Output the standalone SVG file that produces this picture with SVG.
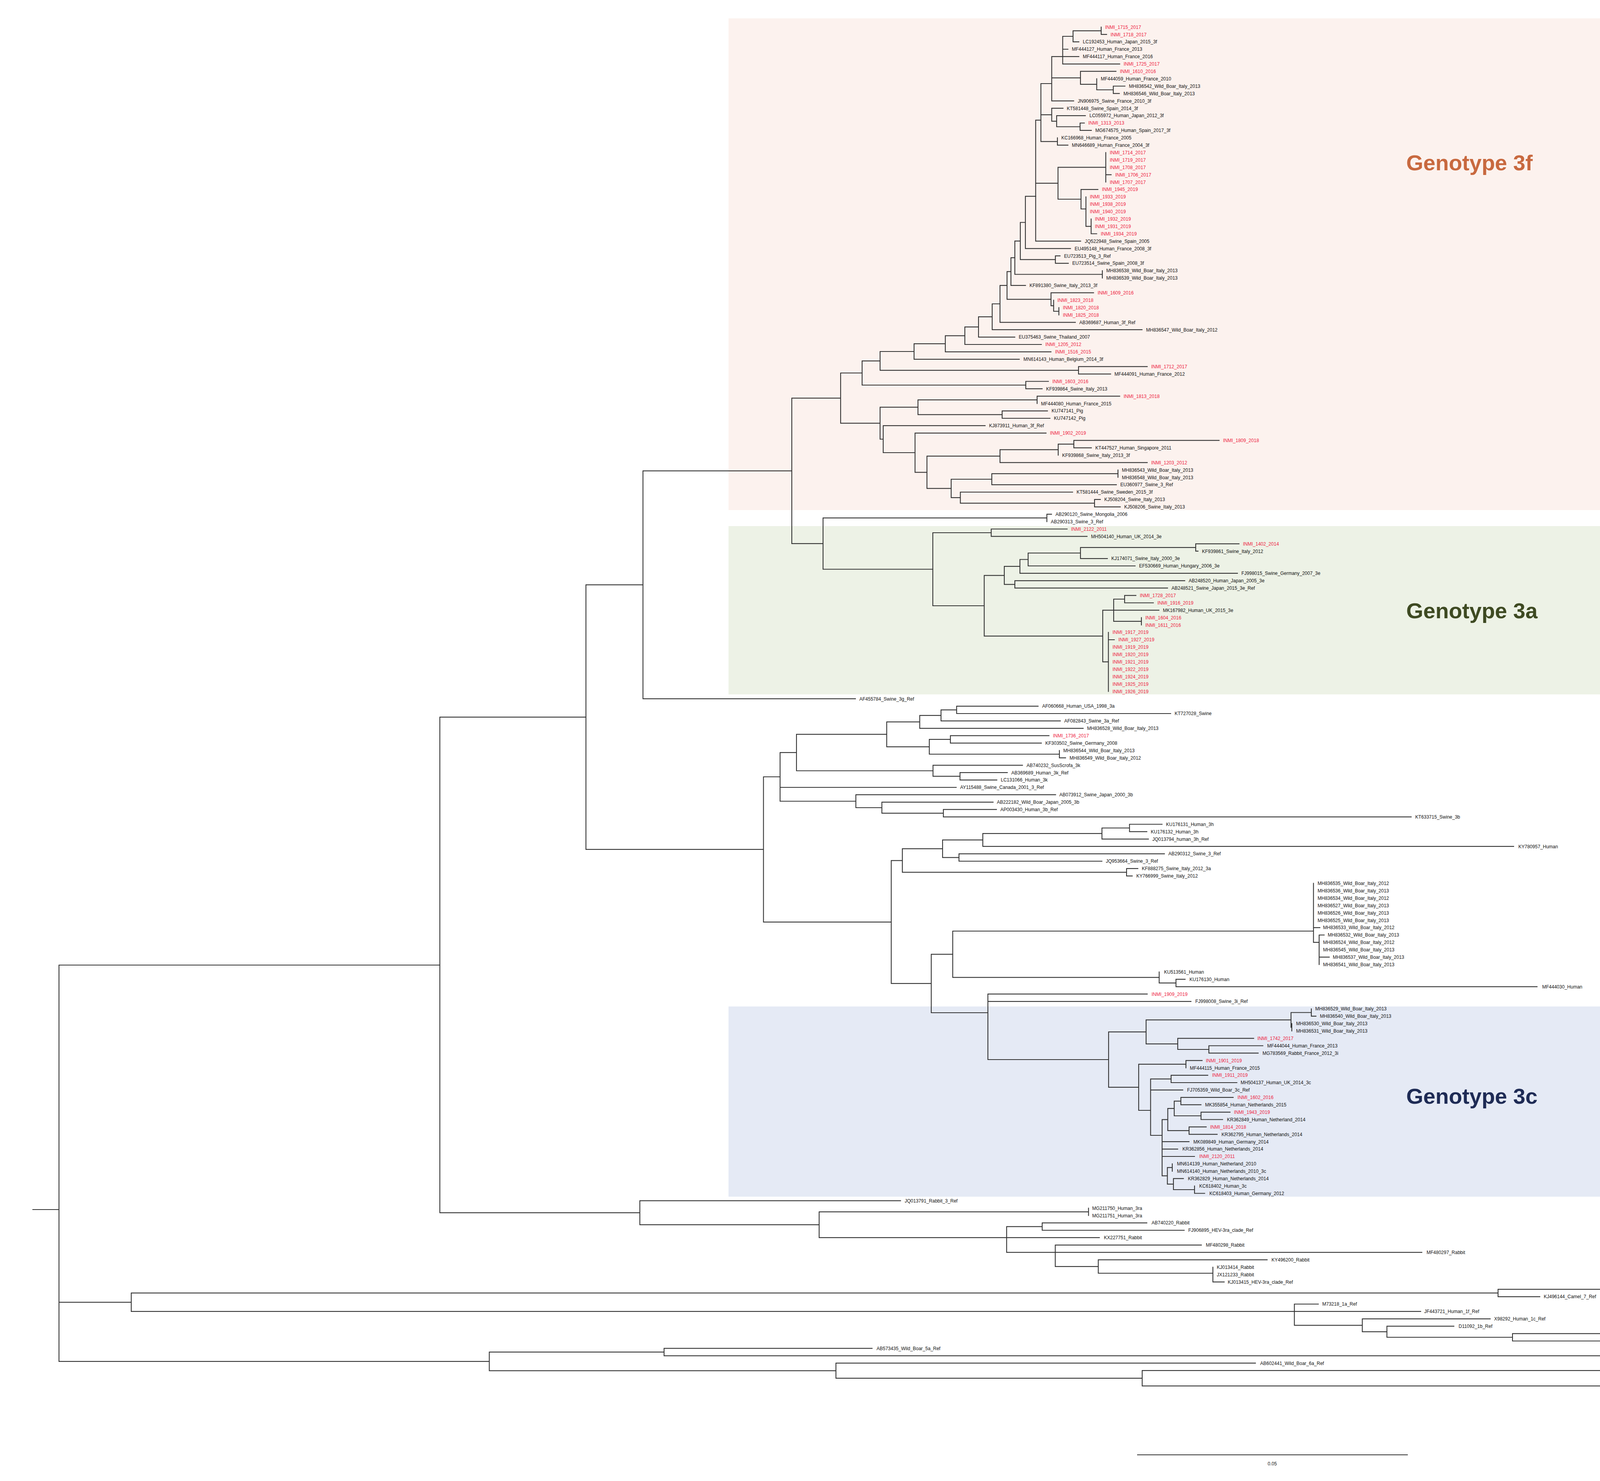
<svg xmlns="http://www.w3.org/2000/svg" width="6588" height="3792" viewBox="0 0 6588 3792">
<style>
.b{fill:none;stroke:#333;stroke-width:2.2;stroke-linecap:square}
.lv text{font-family:"Liberation Sans",Arial,sans-serif;font-size:12px;fill:#111}
.lv text.r{fill:#EE1D3F}
.gt{font-family:"Liberation Sans",Arial,sans-serif;font-size:56px;font-weight:bold}
.cl{font-family:"Liberation Sans",Arial,sans-serif;font-size:68px;font-weight:bold;fill:#000}
.br{fill:none;stroke:#8a8a8a;stroke-width:3}
</style>
<rect width="6588" height="3792" fill="#fff"/>
<g id="boxes">
<rect id="box3f" x="1865" y="47" width="2782" height="1259" fill="#FCF2EE"/>
<rect id="box3a" x="1865" y="1347" width="2782" height="431" fill="#EDF2E6"/>
<rect id="box3c" x="1865" y="2577" width="2782" height="487" fill="#E5EAF5"/>
</g>
<g id="connectors">
<path class="b" d="M2819 69.3V88.2M2819 88.2H2833M2747 78.8V107.1M2747 78.8H2819M2747 107.1H2762M2720.5 93V163.8M2720.5 93H2747M2720.5 126H2734M2720.5 163.8H2866.5M2692.4 144.9V258.3M2692.4 144.9H2762M2692.4 199.3H2766M2692.4 258.3H2748.7M2766 182.7V215.8M2766 182.7H2857M2766 215.8H2807.6M2807.6 201.6V230M2807.6 230H2850M2850 220.5V239.4M2850 220.5H2880M2850 239.4H2865.6M2664.7 214V362.3M2664.7 214H2692.4M2664.7 293.8H2692.4M2664.7 362.3H2707M2692.4 277.2V310.3M2692.4 277.2H2721.4M2692.4 310.3H2705M2705 296.1V324.5M2705 296.1H2778.6M2705 324.5H2765M2765 315V333.9M2765 315H2776M2765 333.9H2794M2707 352.8V371.7M2707 371.7H2734M2651.3 307.7V617.4M2651.3 307.7H2664.7M2651.3 469.2H2708.5M2651.3 617.4H2766.5M2708.5 428.4V510M2708.5 428.4H2830.8M2708.5 510H2767.4M2830.8 390.6V466.2M2830.8 447.3H2844.6M2767.4 485.1V535M2767.4 485.1H2810.7M2767.4 535H2780M2780 504V579.6M2780 579.6H2793.3M2793.3 560.7V598.5M2793.3 598.5H2807.6"/>
<path class="b" d="M2625 502.7V636.3M2625 502.7H2651.3M2625 636.3H2740.6M2701.8 655.2V674.1M2701.8 655.2H2713.8M2701.8 674.1H2735M2612 569.5V664.7M2612 569.5H2625M2612 664.7H2701.8M2822 693V711.9M2598 617.1V702.5M2598 617.1H2612M2598 702.5H2822M2588 659.8V730.8M2588 659.8H2598M2588 730.8H2625.4M2710.7 787.5V806.4M2697.3 768.6V797M2697.3 797H2710.7M2690.6 749.7V782.8M2690.6 749.7H2799.6M2690.6 782.8H2697.3M2578 695.3V766.3M2578 695.3H2588M2578 766.3H2690.6M2560 730.8V825.3M2560 730.8H2578M2560 825.3H2753M2540 778V844.2M2540 778H2560M2540 844.2H2923.7M2505 811.1V863.1M2505 811.1H2540M2505 863.1H2598M2470 837.1V882M2470 837.1H2505M2470 882H2666M2420 859.6V900.9M2420 859.6H2470M2420 900.9H2690.6M2340 880.2V919.8M2340 880.2H2420M2340 919.8H2609.5M2761 938.7V957.6M2761 938.7H2937M2761 957.6H2843.3M2253 900V948.2M2253 900H2340M2253 948.2H2761M2626 976.5V995.4M2626 976.5H2684M2626 995.4H2668M2207 924.1V986M2207 924.1H2253M2207 986H2626"/>
<path class="b" d="M2655 1014.3V1033.2M2655 1014.3H2866.5M2565.5 1052.1V1071M2565.5 1052.1H2681.6M2565.5 1071H2688M2350 1023.8V1061.6M2350 1023.8H2655M2350 1061.6H2565.5M2749 1127.7V1146.6M2749 1127.7H3121M2749 1146.6H2794M2709 1137.2V1165.5M2709 1137.2H2749M2560 1151.4V1184.4M2560 1151.4H2709M2560 1184.4H2937M2862 1203.3V1222.2M2539 1212.8V1241.1M2539 1212.8H2862M2539 1241.1H2858M2802 1278.9V1297.8M2802 1278.9H2817M2802 1297.8H2868M2458.5 1260V1288.4M2458.5 1260H2746M2458.5 1288.4H2802M2435 1227V1274.2M2435 1227H2539M2435 1274.2H2458.5M2373 1167.9V1250.6M2373 1167.9H2560M2373 1250.6H2435M2342.5 1108.8V1209.3M2342.5 1108.8H2678M2342.5 1209.3H2373M2261 1089.9V1159M2261 1089.9H2522M2261 1159H2342.5M2253 1042.7V1124.5M2253 1042.7H2350M2253 1124.5H2261M2152 955V1083.6M2152 955H2207M2152 1083.6H2253M2680 1316.7V1335.6M2680 1316.7H2692M2107 1326.2V1457.5M2107 1326.2H2680M2107 1457.5H2388M2027 1019.3V1391.9M2027 1019.3H2152M2027 1391.9H2107M1646 1205.6V1789.2M1646 1205.6H2027M1646 1789.2H2190"/>
<path class="b" d="M3061 1392.3V1411.2M3061 1392.3H3172M3061 1411.2H3067M2766 1401.8V1430.1M2766 1401.8H3061M2766 1430.1H2835M2632 1416V1449M2632 1416H2766M2632 1449H2906M2611 1432.5V1467.9M2611 1432.5H2632M2611 1467.9H3168M2598 1486.8V1505.7M2598 1486.8H3033M2598 1505.7H2989M2571 1450.2V1496.3M2571 1450.2H2611M2571 1496.3H2598M2879 1524.6V1543.5M2879 1524.6H2908M2879 1543.5H2952.7M2922 1581.3V1600.2M2851 1534V1590.8M2851 1534H2879M2851 1562.4H2967M2851 1590.8H2922M2837.5 1619.1V1770.3M2837.5 1638H2852.7M2823 1562.4V1694.7M2823 1562.4H2851M2823 1694.7H2837.5M2519.6 1473.3V1628.6M2519.6 1473.3H2571M2519.6 1628.6H2823M2537.5 1354.5V1373.4M2537.5 1354.5H2732M2537.5 1373.4H2783M2388 1364V1551M2388 1364H2537.5M2388 1551H2519.6"/>
<path class="b" d="M2449 1808.1V1827M2449 1808.1H2657.6M2449 1827H2997M2409 1817.6V1845.9M2409 1817.6H2449M2409 1845.9H2714.5M2354.5 1831.8V1864.8M2354.5 1831.8H2409M2354.5 1864.8H2773M2433 1883.7V1902.6M2433 1883.7H2685.5M2433 1902.6H2666M2712 1921.5V1940.4M2712 1940.4H2728M2379 1893.2V1931M2379 1893.2H2433M2379 1931H2712M2270 1848.3V1912.1M2270 1848.3H2354.5M2270 1912.1H2379M2457.6 1978.2V1997.1M2457.6 1978.2H2578.8M2457.6 1997.1H2552M2388.5 1959.3V1987.7M2388.5 1959.3H2617.6M2388.5 1987.7H2457.6M2039 1880.2V1973.5M2039 1880.2H2270M2039 1973.5H2388.5M2415 2072.7V2091.6M2415 2072.7H2551M2415 2091.6H3612.7M2257.6 2053.8V2082.2M2257.6 2053.8H2542.4M2257.6 2082.2H2415M2191 2034.9V2068M2191 2034.9H2702.4M2191 2068H2257.6M1997 1926.9V2051.5M1997 1926.9H2039M1997 2016H2448M1997 2051.5H2191"/>
<path class="b" d="M2891.5 2110.5V2129.4M2891.5 2110.5H2975M2891.5 2129.4H2936M2821 2120V2148.3M2821 2120H2891.5M2821 2148.3H2940M2516 2134.2V2167.2M2516 2134.2H2821M2516 2167.2H3875M2455 2186.1V2205M2455 2186.1H2981M2455 2205H2821M2413 2150.7V2195.6M2413 2150.7H2516M2413 2195.6H2455M2884 2223.9V2242.8M2884 2223.9H2913M2884 2242.8H2898.6M2310 2173.2V2233.4M2310 2173.2H2413M2310 2233.4H2884M3362.5 2261.7V2412.9M3362.5 2375.1H3379M3362.5 2412.9H3377M3377 2394V2469.6M3377 2394H3390M3377 2450.7H3403M3010.5 2507.4V2526.3M3010.5 2507.4H3034M3010.5 2526.3H3935M2967.5 2488.5V2516.9M2967.5 2516.9H3010.5M2439 2384V2502.7M2439 2384H3362.5M2439 2502.7H2967.5"/>
<path class="b" d="M3357 2583V2601.9M3357 2601.9H3369M3307 2620.8V2639.7M3305 2592.5V2630.3M3305 2592.5H3357M3305 2630.3H3307M3094.7 2677.5V2696.4M3094.7 2677.5H3233M3094.7 2696.4H3221M3015 2658.6V2687M3015 2658.6H3209.5M3015 2687H3094.7M2934 2611.4V2672.8M2934 2611.4H3305M2934 2672.8H3015M3036 2715.3V2734.2M3036 2715.3H3077.5M2998 2753.1V2772M2998 2753.1H3092M2998 2772H3166.5M3023 2809.8V2828.7M3023 2809.8H3157M3023 2828.7H3074.6M3074.6 2847.6V2866.5M3074.6 2847.6H3149M3074.6 2866.5H3130M3006 2819.3V2857M3006 2819.3H3023M3006 2857H3074.6M3044 2885.4V2904.3M3044 2885.4H3088M3044 2904.3H3116M2989.5 2838.2V2894.9M2989.5 2838.2H3006M2989.5 2894.9H3044M3001 2979.9V2998.8M3058 3036.6V3055.5M3058 3055.5H3084M3004 3017.7V3046M3004 3017.7H3029.6M3004 3046H3058M2988.5 2989.4V3031.9M2988.5 2989.4H3001M2988.5 3031.9H3004M2975 2866.6V3010.7M2975 2866.6H2989.5M2975 2923.2H3044M2975 2942.1H3015M2975 2961H3058M2975 3010.7H2988.5M2945.5 2762.6V2907M2945.5 2762.6H2998M2945.5 2790.9H3028M2945.5 2907H2975M2915 2724.8V2843M2915 2724.8H3036M2915 2843H2945.5M2838 2642.1V2783.9M2838 2642.1H2934M2838 2783.9H2915M2529 2545.2V2713M2529 2545.2H2937M2529 2564.1H3049M2529 2713H2838M2384 2443.4V2593M2384 2443.4H2439M2384 2593H2529M2281.6 2203.3V2518.2M2281.6 2203.3H2310M2281.6 2518.2H2384M1954.5 1989V2360.8M1954.5 1989H1997M1954.5 2360.8H2281.6M1500 1497.4V2174.9M1500 1497.4H1646M1500 2174.9H1954.5"/>
<path class="b" d="M3105 3244.5V3282.3M3105 3282.3H3134M2811.6 3225.6V3260M2811.6 3225.6H3244M2811.6 3260H3105M2701.5 3187.8V3242.8M2701.5 3187.8H3075.6M2701.5 3206.7H3640M2701.5 3242.8H2811.6M2668 3131.1V3150M2668 3131.1H2936M2668 3150H3031.6M2577 3140.6V3206.7M2577 3140.6H2668M2577 3168.9H2814.5M2577 3206.7H2701.5M2786.6 3093.3V3112.2M2097 3102.8V3168.9M2097 3102.8H2786.6M2097 3168.9H2577M1638 3074.4V3135.8M1638 3074.4H2305.5M1638 3135.8H2097M1126 1836.2V3105.1M1126 1836.2H1500M1126 3105.1H1638"/>
<path class="b" d="M3835 3301.2V3320.1M3835 3301.2H4937M3835 3320.1H3942M3872 3414.6V3433.5M3872 3414.6H4181M3872 3433.5H4210M3550.5 3395.7V3424M3550.5 3395.7H3722M3550.5 3424H3872M3487.5 3376.8V3409.9M3487.5 3376.8H3815M3487.5 3409.9H3550.5M3313.6 3339V3393.4M3313.6 3339H3375M3313.6 3357.9H3637M3313.6 3393.4H3487.5M336 3310.7V3357.9M336 3310.7H3835M336 3357.9H3313.6M1700 3452.4V3471.3M1700 3452.4H2232.6M1700 3471.3H6433M5633 3679.2V3698.1M5633 3679.2H6231M5633 3698.1H6035M5478 3660.3V3688.7M5478 3660.3H5925.6M5478 3688.7H5633M5406.5 3641.4V3674.5M5406.5 3641.4H6117M5406.5 3674.5H5478M5347 3622.5V3658M5347 3622.5H5964M5347 3658H5406.5M5413 3584.7V3603.6M5413 3584.7H5927M5413 3603.6H6039M5247 3594.2V3640.3M5247 3594.2H5413M5247 3640.3H5347M5242 3565.8V3617.3M5242 3565.8H6039M5242 3617.3H5247M5128 3546.9V3591.6M5128 3546.9H5453M5128 3591.6H5242M4875 3528V3569.3M4875 3528H5242M4875 3569.3H5128M2924 3509.1V3548.7M2924 3509.1H4262M2924 3548.7H4875M2140 3490.2V3528.9M2140 3490.2H3214M2140 3528.9H2924M1252.6 3461.9V3509.6M1252.6 3461.9H1700M1252.6 3509.6H2140M151 2471V3485.8M151 2471H1126M151 3334.4H336M151 3485.8H1252.6M84 3097H151"/>
</g>
<g class="lv">
<g id="L0"><text class="r" x="2829" y="73.6">INMI_1715_2017</text></g>
<g id="L1"><text class="r" x="2843" y="92.5">INMI_1718_2017</text></g>
<g id="L2"><text x="2772" y="111.4">LC192453_Human_Japan_2015_3f</text></g>
<g id="L3"><text x="2744" y="130.3">MF444127_Human_France_2013</text></g>
<g id="L4"><text x="2772" y="149.2">MF444117_Human_France_2016</text></g>
<g id="L5"><text class="r" x="2876.5" y="168.1">INMI_1725_2017</text></g>
<g id="L6"><text class="r" x="2867" y="187">INMI_1610_2016</text></g>
<g id="L7"><text x="2818" y="205.9">MF444059_Human_France_2010</text></g>
<g id="L8"><text x="2890" y="224.8">MH836542_Wild_Boar_Italy_2013</text></g>
<g id="L9"><text x="2876" y="243.7">MH836546_Wild_Boar_Italy_2013</text></g>
<g id="L10"><text x="2759" y="262.6">JN906975_Swine_France_2010_3f</text></g>
<g id="L11"><text x="2731" y="281.5">KT581448_Swine_Spain_2014_3f</text></g>
<g id="L12"><text x="2789" y="300.4">LC055972_Human_Japan_2012_3f</text></g>
<g id="L13"><text class="r" x="2786" y="319.3">INMI_1313_2013</text></g>
<g id="L14"><text x="2804" y="338.2">MG674575_Human_Spain_2017_3f</text></g>
<g id="L15"><text x="2717" y="357.1">KC166968_Human_France_2005</text></g>
<g id="L16"><text x="2744" y="376">MN646689_Human_France_2004_3f</text></g>
<g id="L17"><text class="r" x="2841" y="394.9">INMI_1714_2017</text></g>
<g id="L18"><text class="r" x="2841" y="413.8">INMI_1719_2017</text></g>
<g id="L19"><text class="r" x="2841" y="432.7">INMI_1708_2017</text></g>
<g id="L20"><text class="r" x="2855" y="451.6">INMI_1706_2017</text></g>
<g id="L21"><text class="r" x="2841" y="470.5">INMI_1707_2017</text></g>
<g id="L22"><text class="r" x="2821" y="489.4">INMI_1945_2019</text></g>
<g id="L23"><text class="r" x="2790" y="508.3">INMI_1933_2019</text></g>
<g id="L24"><text class="r" x="2790" y="527.2">INMI_1938_2019</text></g>
<g id="L25"><text class="r" x="2790" y="546.1">INMI_1940_2019</text></g>
<g id="L26"><text class="r" x="2803" y="565">INMI_1932_2019</text></g>
<g id="L27"><text class="r" x="2803" y="583.9">INMI_1931_2019</text></g>
<g id="L28"><text class="r" x="2818" y="602.8">INMI_1934_2019</text></g>
<g id="L29"><text x="2777" y="621.7">JQ522948_Swine_Spain_2005</text></g>
<g id="L30"><text x="2751" y="640.6">EU495148_Human_France_2008_3f</text></g>
<g id="L31"><text x="2724" y="659.5">EU723513_Pig_3_Ref</text></g>
<g id="L32"><text x="2745" y="678.4">EU723514_Swine_Spain_2008_3f</text></g>
<g id="L33"><text x="2832" y="697.3">MH836538_Wild_Boar_Italy_2013</text></g>
<g id="L34"><text x="2832" y="716.2">MH836539_Wild_Boar_Italy_2013</text></g>
<g id="L35"><text x="2635.5" y="735.1">KF891380_Swine_Italy_2013_3f</text></g>
<g id="L36"><text class="r" x="2810" y="754">INMI_1609_2016</text></g>
<g id="L37"><text class="r" x="2707" y="772.9">INMI_1823_2018</text></g>
<g id="L38"><text class="r" x="2721" y="791.8">INMI_1820_2018</text></g>
<g id="L39"><text class="r" x="2721" y="810.7">INMI_1825_2018</text></g>
<g id="L40"><text x="2763" y="829.6">AB369687_Human_3f_Ref</text></g>
<g id="L41"><text x="2934" y="848.5">MH836547_Wild_Boar_Italy_2012</text></g>
<g id="L42"><text x="2608" y="867.4">EU375463_Swine_Thailand_2007</text></g>
<g id="L43"><text class="r" x="2676" y="886.3">INMI_1205_2012</text></g>
<g id="L44"><text class="r" x="2701" y="905.2">INMI_1516_2015</text></g>
<g id="L45"><text x="2620" y="924.1">MN614143_Human_Belgium_2014_3f</text></g>
<g id="L46"><text class="r" x="2947" y="943">INMI_1712_2017</text></g>
<g id="L47"><text x="2853" y="961.9">MF444091_Human_France_2012</text></g>
<g id="L48"><text class="r" x="2694" y="980.8">INMI_1603_2016</text></g>
<g id="L49"><text x="2678" y="999.7">KF939864_Swine_Italy_2013</text></g>
<g id="L50"><text class="r" x="2876.5" y="1018.6">INMI_1813_2018</text></g>
<g id="L51"><text x="2665" y="1037.5">MF444080_Human_France_2015</text></g>
<g id="L52"><text x="2692" y="1056.4">KU747141_Pig</text></g>
<g id="L53"><text x="2698" y="1075.3">KU747142_Pig</text></g>
<g id="L54"><text x="2532" y="1094.2">KJ873911_Human_3f_Ref</text></g>
<g id="L55"><text class="r" x="2688" y="1113.1">INMI_1902_2019</text></g>
<g id="L56"><text class="r" x="3131" y="1132">INMI_1809_2018</text></g>
<g id="L57"><text x="2804" y="1150.9">KT447527_Human_Singapore_2011</text></g>
<g id="L58"><text x="2719" y="1169.8">KF939868_Swine_Italy_2013_3f</text></g>
<g id="L59"><text class="r" x="2947" y="1188.7">INMI_1203_2012</text></g>
<g id="L60"><text x="2872" y="1207.6">MH836543_Wild_Boar_Italy_2013</text></g>
<g id="L61"><text x="2872" y="1226.5">MH836548_Wild_Boar_Italy_2013</text></g>
<g id="L62"><text x="2868" y="1245.4">EU360977_Swine_3_Ref</text></g>
<g id="L63"><text x="2756" y="1264.3">KT581444_Swine_Sweden_2015_3f</text></g>
<g id="L64"><text x="2827" y="1283.2">KJ508204_Swine_Italy_2013</text></g>
<g id="L65"><text x="2878" y="1302.1">KJ508206_Swine_Italy_2013</text></g>
<g id="L66"><text x="2702" y="1321">AB290120_Swine_Mongolia_2006</text></g>
<g id="L67"><text x="2690" y="1339.9">AB290313_Swine_3_Ref</text></g>
<g id="L68"><text class="r" x="2742" y="1358.8">INMI_2122_2011</text></g>
<g id="L69"><text x="2793" y="1377.7">MH504140_Human_UK_2014_3e</text></g>
<g id="L70"><text class="r" x="3182" y="1396.6">INMI_1402_2014</text></g>
<g id="L71"><text x="3077" y="1415.5">KF939861_Swine_Italy_2012</text></g>
<g id="L72"><text x="2845" y="1434.4">KJ174071_Swine_Italy_2000_3e</text></g>
<g id="L73"><text x="2916" y="1453.3">EF530669_Human_Hungary_2006_3e</text></g>
<g id="L74"><text x="3178" y="1472.2">FJ998015_Swine_Germany_2007_3e</text></g>
<g id="L75"><text x="3043" y="1491.1">AB248520_Human_Japan_2005_3e</text></g>
<g id="L76"><text x="2999" y="1510">AB248521_Swine_Japan_2015_3e_Ref</text></g>
<g id="L77"><text class="r" x="2918" y="1528.9">INMI_1728_2017</text></g>
<g id="L78"><text class="r" x="2963" y="1547.8">INMI_1916_2019</text></g>
<g id="L79"><text x="2977" y="1566.7">MK167982_Human_UK_2015_3e</text></g>
<g id="L80"><text class="r" x="2932" y="1585.6">INMI_1604_2016</text></g>
<g id="L81"><text class="r" x="2932" y="1604.5">INMI_1611_2016</text></g>
<g id="L82"><text class="r" x="2848" y="1623.4">INMI_1917_2019</text></g>
<g id="L83"><text class="r" x="2863" y="1642.3">INMI_1927_2019</text></g>
<g id="L84"><text class="r" x="2848" y="1661.2">INMI_1919_2019</text></g>
<g id="L85"><text class="r" x="2848" y="1680.1">INMI_1920_2019</text></g>
<g id="L86"><text class="r" x="2848" y="1699">INMI_1921_2019</text></g>
<g id="L87"><text class="r" x="2848" y="1717.9">INMI_1922_2019</text></g>
<g id="L88"><text class="r" x="2848" y="1736.8">INMI_1924_2019</text></g>
<g id="L89"><text class="r" x="2848" y="1755.7">INMI_1925_2019</text></g>
<g id="L90"><text class="r" x="2848" y="1774.6">INMI_1926_2019</text></g>
<g id="L91"><text x="2200" y="1793.5">AF455784_Swine_3g_Ref</text></g>
<g id="L92"><text x="2668" y="1812.4">AF060668_Human_USA_1998_3a</text></g>
<g id="L93"><text x="3007" y="1831.3">KT727028_Swine</text></g>
<g id="L94"><text x="2724.5" y="1850.2">AF082843_Swine_3a_Ref</text></g>
<g id="L95"><text x="2783" y="1869.1">MH836528_Wild_Boar_Italy_2013</text></g>
<g id="L96"><text class="r" x="2695.5" y="1888">INMI_1736_2017</text></g>
<g id="L97"><text x="2676" y="1906.9">KF303502_Swine_Germany_2008</text></g>
<g id="L98"><text x="2722" y="1925.8">MH836544_Wild_Boar_Italy_2013</text></g>
<g id="L99"><text x="2738" y="1944.7">MH836549_Wild_Boar_Italy_2012</text></g>
<g id="L100"><text x="2628" y="1963.6">AB740232_SusScrofa_3k</text></g>
<g id="L101"><text x="2589" y="1982.5">AB369689_Human_3k_Ref</text></g>
<g id="L102"><text x="2562" y="2001.4">LC131066_Human_3k</text></g>
<g id="L103"><text x="2458" y="2020.3">AY115488_Swine_Canada_2001_3_Ref</text></g>
<g id="L104"><text x="2712" y="2039.2">AB073912_Swine_Japan_2000_3b</text></g>
<g id="L105"><text x="2552" y="2058.1">AB222182_Wild_Boar_Japan_2005_3b</text></g>
<g id="L106"><text x="2561" y="2077">AP003430_Human_3b_Ref</text></g>
<g id="L107"><text x="3623" y="2095.9">KT633715_Swine_3b</text></g>
<g id="L108"><text x="2985" y="2114.8">KU176131_Human_3h</text></g>
<g id="L109"><text x="2946" y="2133.7">KU176132_Human_3h</text></g>
<g id="L110"><text x="2950" y="2152.6">JQ013794_human_3h_Ref</text></g>
<g id="L111"><text x="3887" y="2171.5">KY780957_Human</text></g>
<g id="L112"><text x="2991" y="2190.4">AB290312_Swine_3_Ref</text></g>
<g id="L113"><text x="2831" y="2209.3">JQ953664_Swine_3_Ref</text></g>
<g id="L114"><text x="2923" y="2228.2">KF888275_Swine_Italy_2012_3a</text></g>
<g id="L115"><text x="2909" y="2247.1">KY766999_Swine_Italy_2012</text></g>
<g id="L116"><text x="3373" y="2266">MH836535_Wild_Boar_Italy_2012</text></g>
<g id="L117"><text x="3373" y="2284.9">MH836536_Wild_Boar_Italy_2013</text></g>
<g id="L118"><text x="3373" y="2303.8">MH836534_Wild_Boar_Italy_2012</text></g>
<g id="L119"><text x="3373" y="2322.7">MH836527_Wild_Boar_Italy_2013</text></g>
<g id="L120"><text x="3373" y="2341.6">MH836526_Wild_Boar_Italy_2013</text></g>
<g id="L121"><text x="3373" y="2360.5">MH836525_Wild_Boar_Italy_2013</text></g>
<g id="L122"><text x="3387" y="2379.4">MH836533_Wild_Boar_Italy_2012</text></g>
<g id="L123"><text x="3399" y="2398.3">MH836532_Wild_Boar_Italy_2013</text></g>
<g id="L124"><text x="3387" y="2417.2">MH836524_Wild_Boar_Italy_2012</text></g>
<g id="L125"><text x="3387" y="2436.1">MH836545_Wild_Boar_Italy_2013</text></g>
<g id="L126"><text x="3412" y="2455">MH836537_Wild_Boar_Italy_2013</text></g>
<g id="L127"><text x="3387" y="2473.9">MH836541_Wild_Boar_Italy_2013</text></g>
<g id="L128"><text x="2980" y="2492.8">KU513561_Human</text></g>
<g id="L129"><text x="3045" y="2511.7">KU176130_Human</text></g>
<g id="L130"><text x="3948" y="2530.6">MF444030_Human</text></g>
<g id="L131"><text class="r" x="2948" y="2549.5">INMI_1909_2019</text></g>
<g id="L132"><text x="3060" y="2568.4">FJ998008_Swine_3i_Ref</text></g>
<g id="L133"><text x="3367" y="2587.3">MH836529_Wild_Boar_Italy_2013</text></g>
<g id="L134"><text x="3379" y="2606.2">MH836540_Wild_Boar_Italy_2013</text></g>
<g id="L135"><text x="3318" y="2625.1">MH836530_Wild_Boar_Italy_2013</text></g>
<g id="L136"><text x="3318" y="2644">MH836531_Wild_Boar_Italy_2013</text></g>
<g id="L137"><text class="r" x="3219" y="2662.9">INMI_1742_2017</text></g>
<g id="L138"><text x="3244" y="2681.8">MF444044_Human_France_2013</text></g>
<g id="L139"><text x="3232" y="2700.7">MG783569_Rabbit_France_2012_3i</text></g>
<g id="L140"><text class="r" x="3087" y="2719.6">INMI_1901_2019</text></g>
<g id="L141"><text x="3046" y="2738.5">MF444115_Human_France_2015</text></g>
<g id="L142"><text class="r" x="3103" y="2757.4">INMI_1911_2019</text></g>
<g id="L143"><text x="3176" y="2776.3">MH504137_Human_UK_2014_3c</text></g>
<g id="L144"><text x="3039" y="2795.2">FJ705359_Wild_Boar_3c_Ref</text></g>
<g id="L145"><text class="r" x="3168" y="2814.1">INMI_1602_2016</text></g>
<g id="L146"><text x="3085" y="2833">MK355854_Human_Netherlands_2015</text></g>
<g id="L147"><text class="r" x="3159" y="2851.9">INMI_1943_2019</text></g>
<g id="L148"><text x="3141" y="2870.8">KR362849_Human_Netherland_2014</text></g>
<g id="L149"><text class="r" x="3098" y="2889.7">INMI_1814_2018</text></g>
<g id="L150"><text x="3127" y="2908.6">KR362795_Human_Netherlands_2014</text></g>
<g id="L151"><text x="3055" y="2927.5">MK089849_Human_Germany_2014</text></g>
<g id="L152"><text x="3027" y="2946.4">KR362856_Human_Netherlands_2014</text></g>
<g id="L153"><text class="r" x="3070" y="2965.3">INMI_2120_2011</text></g>
<g id="L154"><text x="3013" y="2984.2">MN614139_Human_Netherland_2010</text></g>
<g id="L155"><text x="3013" y="3003.1">MN614140_Human_Netherlands_2010_3c</text></g>
<g id="L156"><text x="3041" y="3022">KR362829_Human_Netherlands_2014</text></g>
<g id="L157"><text x="3070" y="3040.9">KC618402_Human_3c</text></g>
<g id="L158"><text x="3096" y="3059.8">KC618403_Human_Germany_2012</text></g>
<g id="L159"><text x="2316" y="3078.7">JQ013791_Rabbit_3_Ref</text></g>
<g id="L160"><text x="2796" y="3097.6">MG211750_Human_3ra</text></g>
<g id="L161"><text x="2796" y="3116.5">MG211751_Human_3ra</text></g>
<g id="L162"><text x="2948" y="3135.4">AB740220_Rabbit</text></g>
<g id="L163"><text x="3042" y="3154.3">FJ906895_HEV-3ra_clade_Ref</text></g>
<g id="L164"><text x="2826" y="3173.2">KX227751_Rabbit</text></g>
<g id="L165"><text x="3087" y="3192.1">MF480298_Rabbit</text></g>
<g id="L166"><text x="3652" y="3211">MF480297_Rabbit</text></g>
<g id="L167"><text x="3255" y="3229.9">KY496200_Rabbit</text></g>
<g id="L168"><text x="3115" y="3248.8">KJ013414_Rabbit</text></g>
<g id="L169"><text x="3115" y="3267.7">JX121233_Rabbit</text></g>
<g id="L170"><text x="3143" y="3286.6">KJ013415_HEV-3ra_clade_Ref</text></g>
<g id="L171"><text x="4948" y="3305.5">KJ496143_Camel_7a_Ref</text></g>
<g id="L172"><text x="3952" y="3324.4">KJ496144_Camel_7_Ref</text></g>
<g id="L173"><text x="3385" y="3343.3">M73218_1a_Ref</text></g>
<g id="L174"><text x="3646" y="3362.2">JF443721_Human_1f_Ref</text></g>
<g id="L175"><text x="3825" y="3381.1">X98292_Human_1c_Ref</text></g>
<g id="L176"><text x="3734" y="3400">D11092_1b_Ref</text></g>
<g id="L177"><text x="4193" y="3418.9">AY204877_Human_1e_Ref</text></g>
<g id="L178"><text x="4221" y="3437.8">AY230202_1d_Ref</text></g>
<g id="L179"><text x="2244" y="3456.7">AB573435_Wild_Boar_5a_Ref</text></g>
<g id="L180"><text x="6443" y="3475.6">M74506_2a_Ref</text></g>
<g id="L181"><text x="3226" y="3494.5">AB602441_Wild_Boar_6a_Ref</text></g>
<g id="L182"><text x="4274" y="3513.4">AB856243_Wild_Boar_6_Ref</text></g>
<g id="L183"><text x="5254" y="3532.3">AY723745_Swine_4e_Ref</text></g>
<g id="L184"><text x="5465" y="3551.2">DQ279091_Swine_4b_Ref</text></g>
<g id="L185"><text x="6050" y="3570.1">AB369688_Human_4_Ref</text></g>
<g id="L186"><text x="5938" y="3589">AB197673_Human_4a_Ref</text></g>
<g id="L187"><text x="6050" y="3607.9">DQ450072_Swine_4i_Ref</text></g>
<g id="L188"><text x="5975" y="3626.8">AJ272108_4d_Ref</text></g>
<g id="L189"><text x="6128" y="3645.7">GU119961_Swine_4h_Ref</text></g>
<g id="L190"><text x="5936" y="3664.6">AB074915_Human_4c_Ref</text></g>
<g id="L191"><text x="6242" y="3683.5">AB108537_Human_4g_Ref</text></g>
<g id="L192"><text x="6046" y="3702.4">AB220974_Human_4f_Ref</text></g>
</g>
<g id="genotype-labels">
<text id="gt3f" class="gt" x="3600" y="436" fill="#C8693F">Genotype 3f</text>
<text id="gt3a" class="gt" x="3600" y="1583" fill="#3E4A22">Genotype 3a</text>
<text id="gt3c" class="gt" x="3600" y="2826" fill="#1E2B55">Genotype 3c</text>
</g>
<g id="clade-3efg">
<path class="br" d="M4690 50Q4733 50 4733 85V887Q4733 912 4755 912Q4733 912 4733 937V1746Q4733 1781 4690 1781"/>
<text class="cl" x="4788" y="936">Clade 3efg</text>
</g>
<g id="clade-3abchij">
<path class="br" d="M4690 1806Q4733 1806 4733 1841V2411Q4733 2436 4755 2436Q4733 2436 4733 2461V3027Q4733 3062 4690 3062"/>
<text class="cl" x="4788" y="2460">Clade 3abchij</text>
</g>
<g id="clade-3ra">
<path class="br" d="M4690 3079Q4733 3079 4733 3114V3160Q4733 3180 4755 3180Q4733 3180 4733 3200V3245Q4733 3280 4690 3280"/>
<text class="cl" x="4788" y="3204">Clade 3ra</text>
</g>
<g id="scale-bar">
<path d="M2911 3725H3604" stroke="#333" stroke-width="2" fill="none"/>
<text x="3257" y="3752" text-anchor="middle" font-family="Liberation Sans, Arial, sans-serif" font-size="12" fill="#111">0.05</text>
</g>
</svg>
